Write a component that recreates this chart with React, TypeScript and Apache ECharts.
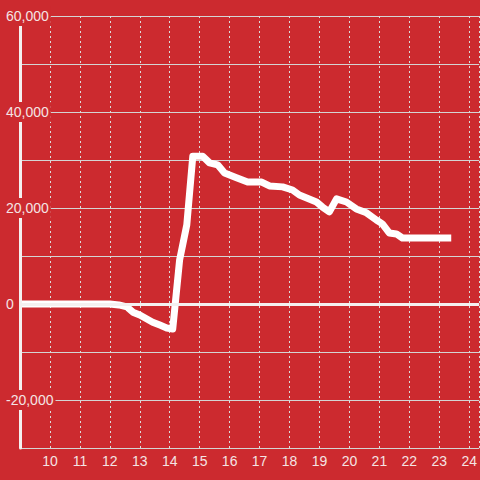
import React, { useEffect, useRef } from "react";
import * as echarts from "echarts";

const hours = [9, 12.0, 12.3, 12.57, 12.77, 13.0, 13.43, 13.67, 13.9, 14.1, 14.33, 14.57, 14.77, 15.1, 15.33, 15.6, 15.83, 16.23, 16.6, 17.07, 17.33, 17.77, 18.1, 18.33, 18.9, 19.1, 19.33, 19.57, 19.9, 20.23, 20.57, 20.9, 21.1, 21.33, 21.57, 21.77, 23.4];
const values = [0, 0, -200, -600, -1700, -2300, -3800, -4400, -5000, -5200, 9200, 16500, 30800, 30800, 29400, 29000, 27300, 26300, 25400, 25400, 24600, 24400, 23750, 22700, 21250, 20200, 19200, 21900, 21250, 19800, 19000, 17500, 16700, 14800, 14600, 13750, 13750];
const xTicks = [10, 11, 12, 13, 14, 15, 16, 17, 18, 19, 20, 21, 22, 23, 24];
const yLabelValues = [-20000, 0, 20000, 40000, 60000];

const BG = "#cc2a2f";
const FONT = "'Liberation Sans', Arial, sans-serif";

export default function App() {
  const ref = useRef<HTMLDivElement>(null);
  useEffect(() => {
    if (!ref.current) return;
    const chart = echarts.init(ref.current, null, { renderer: "svg" });
    chart.setOption({
      animation: false,
      backgroundColor: BG,
      textStyle: { fontFamily: FONT },
      grid: { left: 20, right: 0, top: 16, bottom: 32 },
      xAxis: {
        type: "value",
        min: 9,
        max: 9 + 460 / 30,
        interval: 1,
        axisLine: { show: false },
        axisTick: { show: false },
        axisLabel: {
          color: "#f4e4e4",
          fontSize: 14,
          fontFamily: FONT,
          margin: 6,
          showMinLabel: false,
          showMaxLabel: false,
          formatter: (v: number) => (xTicks.includes(Math.round(v)) && Math.abs(v - Math.round(v)) < 1e-6 ? String(Math.round(v)) : ""),
        },
        splitLine: { show: true, lineStyle: { color: "#dcdcdc", type: [2, 3], width: 1 } },
      },
      yAxis: [
        {
          type: "value",
          min: -30000,
          max: 60000,
          interval: 10000,
          axisLine: { show: false },
          axisTick: { show: false },
          axisLabel: { show: false },
          splitLine: { show: true, lineStyle: { color: "#d4d4d4", width: 1 } },
        },
        {
          type: "value",
          position: "left",
          min: -30000,
          max: 60000,
          interval: 10000,
          z: 5,
          axisLine: { show: true, lineStyle: { color: "#f4f0f0", width: 3 } },
          axisTick: { show: false },
          splitLine: { show: false },
          axisLabel: {
            color: "#f4e4e4",
            fontSize: 14,
            fontFamily: FONT,
            align: "left",
            margin: 16,
            formatter: (v: number) => (yLabelValues.includes(v) ? v.toLocaleString("en-US") : ""),
            backgroundColor: BG,
            padding: [3, 2, 3, 2],
          },
        },
      ],
      series: [
        {
          type: "line",
          yAxisIndex: 0,
          data: hours.map((h, i) => [h, values[i]]),
          symbol: "none",
          lineStyle: { color: "#ffffff", width: 7, join: "round" },
          markLine: {
            silent: true,
            symbol: "none",
            label: { show: false },
            lineStyle: { color: "#f4f0f0", width: 3, type: "solid" },
            data: [{ yAxis: 0 }],
          },
        },
      ],
    });
    return () => chart.dispose();
  }, []);
  return <div ref={ref} style={{ position: "fixed", left: 0, top: 0, width: 480, height: 480 }} />;
}
